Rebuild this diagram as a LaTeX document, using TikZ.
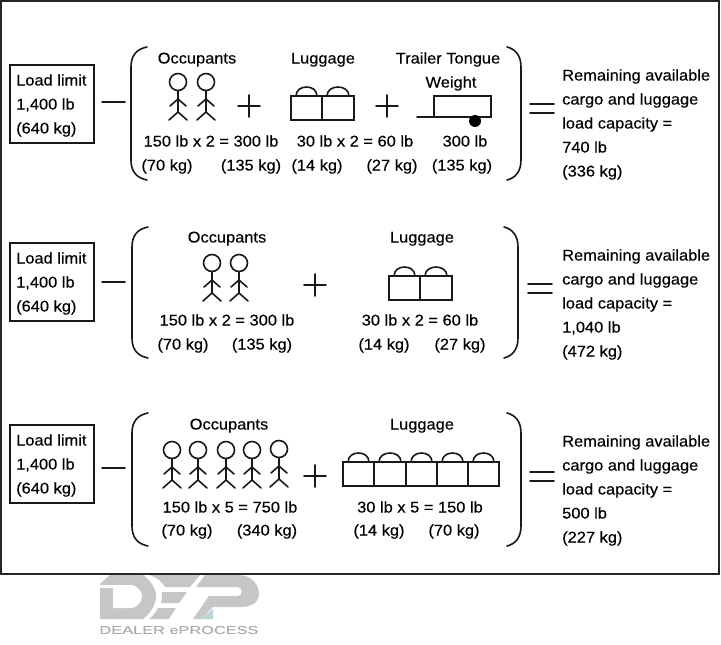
\documentclass[tikz,border=0pt]{standalone}
\usepackage{fontspec}
\setmainfont[FakeStretch=1.06,FakeBold=0.3]{Liberation Sans}
\begin{document}
\begin{tikzpicture}[x=1pt, y=-1pt, line cap=round,
    lbl/.style={inner sep=0pt, text height=14pt, text depth=3pt, font=\fontsize{15.5}{17}\selectfont},
    pen/.style={line width=1.6pt, black!90},
    logogray/.style={fill=gray!45, draw=none}]
  \useasboundingbox (0,0) rectangle (721,645);
  % frame
  \draw[line width=1.8pt, black!85, line cap=butt] (1,574) -- (1,1) -- (719,1) -- (719,574) -- cycle;
  % load limit boxes
  \foreach \i/\t/\b/\m/\u in {a/65/143/102/80, b/243/321/282/258, c/425/503/468/440} {
    \draw[pen] (10,\t) rectangle (94,\b);
    \node[lbl, anchor=west] (load\i) at (16,\u) {Load limit};
    \node[lbl, anchor=west] (lb\i) at (16,{\u+24}) {1,400 lb};
    \node[lbl, anchor=west] (kg\i) at (16,{\u+48}) {(640 kg)};
    \draw[pen] (102,\m) -- (125,\m);
  }
  % brackets and equals signs
  \foreach \xl/\xr/\t/\b/\e/\ex in {131/521/47/180/104/530, 132/518/227/358/284/528, 132/521/413/546/472/530} {
    \draw[pen] ({\xl+16},\t) .. controls ({\xl+6},{\t+2}) and (\xl,{\t+8}) .. (\xl,{\t+20})
      -- (\xl,{\b-20}) .. controls (\xl,{\b-8}) and ({\xl+6},{\b-2}) .. ({\xl+16},\b);
    \draw[pen] ({\xr-14},\t) .. controls ({\xr-6},{\t+2}) and (\xr,{\t+8}) .. (\xr,{\t+20})
      -- (\xr,{\b-20}) .. controls (\xr,{\b-8}) and ({\xr-6},{\b-2}) .. ({\xr-14},\b);
    \draw[pen] (\ex,\e) -- ({\ex+24},\e);
    \draw[pen] (\ex,{\e+9}) -- ({\ex+24},{\e+9});
  }
  % occupants
  \foreach \px/\py in {178/82, 206/82, 212/263, 239/263, 172/450, 198/450, 226/450, 252/450, 279/449} {
    \draw[pen] (\px,\py) circle[radius=8.5pt];
    \draw[pen] (\px,{\py+8.5}) -- (\px,{\py+30});
    \draw[pen] ({\px-8},{\py+24}) -- (\px,{\py+17}) -- ({\px+8},{\py+24});
    \draw[pen] ({\px-9},{\py+38}) -- (\px,{\py+30}) -- ({\px+9},{\py+38});
  }
  % plus signs
  \foreach \cx/\cy in {249/106, 387/106, 315/285, 315/476} {
    \draw[pen] ({\cx-11},\cy) -- ({\cx+11},\cy);
    \draw[pen] (\cx,{\cy-11}) -- (\cx,{\cy+11});
  }
  % luggage
  \foreach \ll/\lr/\lt/\lb in {291/322/96/120, 322/354/96/120, 389/420/276/300, 420/452/276/300,
                               343/374/462/486, 374/406/462/486, 406/437/462/486, 437/468/462/486, 468/499/462/486} {
    \draw[pen] (\ll,\lt) rectangle (\lr,\lb);
    \draw[pen] ({\ll+5},\lt) .. controls ({\ll+5},{\lt-12}) and ({\lr-5},{\lt-12}) .. ({\lr-5},\lt);
  }
  % trailer
  \draw[pen] (417,117) -- (491,117) -- (491,96) -- (434,96) -- (434,117);
  \fill[black] (475,121) circle[radius=6pt];
  % headings
  \foreach \i/\tx/\ty/\txt in {occa/197/58/Occupants, luga/323/58/Luggage, trla/448/58/Trailer Tongue, wgta/451/82/Weight,
                               occb/227/237/Occupants, lugb/422/237/Luggage, occc/229/424/Occupants, lugc/422/424/Luggage} {
    \node[lbl] (\i) at (\tx,\ty) {\txt};
  }
  % weights
  \foreach \i/\tx/\ty/\txt in {wa/211/141/150 lb x 2 = 300 lb, wb/355/141/30 lb x 2 = 60 lb, wc/465/141/300 lb,
                               wd/227/320/150 lb x 2 = 300 lb, we/420/320/30 lb x 2 = 60 lb,
                               wf/230/507/150 lb x 5 = 750 lb, wg/420/507/30 lb x 5 = 150 lb,
                               ka/167/165/(70 kg), kb/251/165/(135 kg), kc/317/165/(14 kg), kd/392/165/(27 kg), ke/462/165/(135 kg),
                               kf/183/344/(70 kg), kg/262/344/(135 kg), kh/384/344/(14 kg), ki/460/344/(27 kg),
                               kj/187/530/(70 kg), kk/267/530/(340 kg), kl/379/530/(14 kg), km/454/530/(70 kg)} {
    \node[lbl] (\i) at (\tx,\ty) {\txt};
  }
  % remaining capacity
  \foreach \i/\ry/\w/\k in {a/75/740 lb/336 kg, b/255/{1,040 lb}/472 kg, c/441/500 lb/227 kg} {
    \node[lbl, anchor=west] (rem\i) at (562,\ry) {Remaining available};
    \node[lbl, anchor=west] (car\i) at (562,{\ry+24}) {cargo and luggage};
    \node[lbl, anchor=west] (cap\i) at (562,{\ry+48}) {load capacity =};
    \node[lbl, anchor=west] (tot\i) at (562,{\ry+72}) {\w};
    \node[lbl, anchor=west] (mas\i) at (562,{\ry+96}) {(\k)};
  }
  % logo
  \fill[logogray] (110,575) -- (143,575) .. controls (150,580) and (156,588) .. (156,596)
    .. controls (156,605) and (150,614) .. (143,619) -- (100,619) -- (100,584) -- cycle;
  \fill[white] (100,585) -- (133,585) .. controls (145,590) and (145,603) .. (133,608)
    -- (113,608) -- (113,588) -- (100,588) -- cycle;
  \fill[logogray] (150,575) -- (200,575) -- (190,587) -- (165,587) .. controls (163,583) and (158,578) .. (150,575) -- cycle;
  \fill[logogray] (162,592) -- (187,592) -- (179,603) -- (161,603) .. controls (162,599) and (162,596) .. (162,592) -- cycle;
  \fill[logogray] (158,608) -- (176,608) -- (169,619) -- (149,619) .. controls (153,616) and (156,612) .. (158,608) -- cycle;
  \fill[logogray] (205,575) -- (238,575) .. controls (252,575) and (259,585) .. (259,594)
    .. controls (259,603) and (250,607) .. (241,607) -- (213,607) -- (201,619) -- (193,619) -- (209,596)
    -- (238,596) .. controls (243,596) and (243,587) .. (238,587) -- (196,587) -- cycle;
  \fill[cyan!35!gray!45] (201,619) -- (213,609) -- (213,619) -- cycle;
  \node[inner sep=0pt, text=gray!65, font=\fontsize{11.5}{12}\selectfont] (logotext) at (179,630) {\scalebox{1.34}[1]{DEALER ePROCESS}};
\end{tikzpicture}
\end{document}
